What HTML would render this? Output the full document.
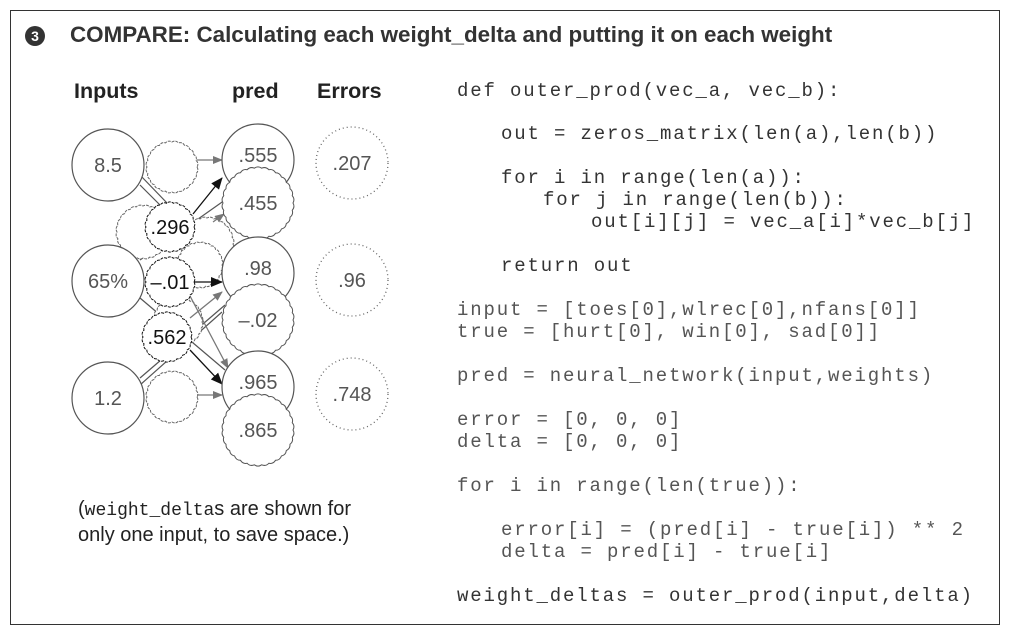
<!DOCTYPE html>
<html><head><meta charset="utf-8"><style>
body{margin:0;background:#fff;width:1011px;height:636px;overflow:hidden;font-family:"Liberation Sans",sans-serif}
.code{position:absolute;font-family:"Liberation Mono",monospace;font-size:19px;letter-spacing:1.85px;white-space:pre;color:#555}
.h{position:absolute;font-weight:bold;font-size:21.5px;color:#222}
</style></head><body>
<div style="position:absolute;left:10px;top:10px;width:988px;height:613px;border:1px solid #333"></div>
<div style="position:absolute;left:25px;top:26px;width:20px;height:20px;border-radius:50%;background:#333;color:#fff;font-weight:bold;font-size:14px;text-align:center;line-height:20px">3</div>
<div class="h" style="left:70px;top:22px;font-size:22.4px;color:#333">COMPARE: Calculating each weight_delta and putting it on each weight</div>
<div class="h" style="left:74px;top:79px">Inputs</div>
<div class="h" style="left:232px;top:79px">pred</div>
<div class="h" style="left:317px;top:79px">Errors</div>
<svg id="s" width="1011" height="636" style="position:absolute;left:0;top:0">
<defs>
<marker id="ag" markerWidth="10" markerHeight="8" refX="9" refY="4" orient="auto" markerUnits="userSpaceOnUse"><path d="M0,0L10,4L0,8z" fill="#777"/></marker>
<marker id="ab" markerWidth="12" markerHeight="10" refX="11" refY="5" orient="auto" markerUnits="userSpaceOnUse"><path d="M0,0L12,5L0,10z" fill="#111"/></marker>
</defs>
<g stroke="#555" stroke-width="1.2" fill="none">
<line x1="140" y1="185" x2="225" y2="270"/>
<line x1="140" y1="298" x2="225" y2="370"/>
<line x1="140" y1="260" x2="225" y2="200"/>
<line x1="140" y1="378" x2="225" y2="305"/>
<line x1="140" y1="385" x2="222" y2="312"/>
<line x1="140" y1="175" x2="222" y2="260"/>
</g>
<g id="back"></g>
<g id="front"></g>
</svg>
<div style="position:absolute;left:78px;top:497px;font-size:20px;color:#222;line-height:24px">(<span style="font-family:'Liberation Mono',monospace;font-size:18px">weight_delta</span>s are shown for<br>only one input, to save space.)</div>
<div class="code" style="left:457px;top:80px;color:#333">def outer_prod(vec_a, vec_b):</div>
<div class="code" style="left:501px;top:123px;color:#333">out = zeros_matrix(len(a),len(b))</div>
<div class="code" style="left:501px;top:167px;color:#333">for i in range(len(a)):</div>
<div class="code" style="left:543px;top:189px;color:#333">for j in range(len(b)):</div>
<div class="code" style="left:591px;top:211px;color:#333">out[i][j] = vec_a[i]*vec_b[j]</div>
<div class="code" style="left:501px;top:255px;color:#333">return out</div>
<div class="code" style="left:457px;top:299px">input = [toes[0],wlrec[0],nfans[0]]</div>
<div class="code" style="left:457px;top:321px">true = [hurt[0], win[0], sad[0]]</div>
<div class="code" style="left:457px;top:365px">pred = neural_network(input,weights)</div>
<div class="code" style="left:457px;top:409px">error = [0, 0, 0]</div>
<div class="code" style="left:457px;top:431px">delta = [0, 0, 0]</div>
<div class="code" style="left:457px;top:475px">for i in range(len(true)):</div>
<div class="code" style="left:501px;top:519px">error[i] = (pred[i] - true[i]) ** 2</div>
<div class="code" style="left:501px;top:541px">delta = pred[i] - true[i]</div>
<div class="code" style="left:457px;top:585px;color:#333">weight_deltas = outer_prod(input,delta)</div>
<script>
var NS="http://www.w3.org/2000/svg";
function wavy(cx,cy,r,n){var d="",k=n;for(var i=0;i<k;i++){var a0=2*Math.PI*i/k,a1=2*Math.PI*(i+1)/k,am=(a0+a1)/2;var x0=cx+r*Math.cos(a0),y0=cy+r*Math.sin(a0),x1=cx+r*Math.cos(a1),y1=cy+r*Math.sin(a1),xm=cx+(r+2.4)*Math.cos(am),ym=cy+(r+2.4)*Math.sin(am);d+=(i?"":"M"+x0+","+y0)+"Q"+xm+","+ym+" "+x1+","+y1;}return d+"Z";}
function el(g,tag,at){var e=document.createElementNS(NS,tag);for(var k in at)e.setAttribute(k,at[k]);document.getElementById(g).appendChild(e);return e;}
function txt(g,x,y,t,c,s){var e=el(g,"text",{x:x,y:y,"text-anchor":"middle","font-family":"Liberation Sans,sans-serif","font-size":s||20,fill:c||"#555"});e.textContent=t;}
[[143,232,26],[207,244,26],[172,167,25],[172,397,25],[178,322,24],[200,265,22]].forEach(function(c){el("back","path",{d:wavy(c[0],c[1],c[2],24),fill:"#fff",stroke:"#666","stroke-width":1,"stroke-dasharray":"3,1"});});
var A=[[197,160,222,160,"ag"],[197,395,222,395,"ag"],[193,214,222,178,"ab"],[193,282,222,282,"ab"],[190,318,222,292,"ag"],[190,350,222,384,"ab"],[190,296,228,368,"ag"],[213,222,224,214,"ag"]];
A.forEach(function(a){el("front","line",{x1:a[0],y1:a[1],x2:a[2],y2:a[3],stroke:a[4]=="ab"?"#111":"#777","stroke-width":1.3,"marker-end":"url(#"+a[4]+")"});});
[[108,165,"8.5"],[108,281,"65%"],[108,398,"1.2"]].forEach(function(c){el("front","circle",{cx:c[0],cy:c[1],r:36,fill:"#fff",stroke:"#555","stroke-width":1.2});txt("front",c[0],c[1]+7,c[2]);});
[[170,227,".296"],[170,282,"\u2013.01"],[167,337,".562"]].forEach(function(c){el("front","path",{d:wavy(c[0],c[1],24,22),fill:"#fff",stroke:"#111","stroke-width":1,"stroke-dasharray":"3,1"});txt("front",c[0],c[1]+7,c[2],"#111");});
[[258,160,".555",0],[258,203,".455",1],[258,273,".98",0],[258,320,"\u2013.02",1],[258,387,".965",0],[258,430,".865",1]].forEach(function(c){if(c[3])el("front","path",{d:wavy(c[0],c[1],35,30),fill:"#fff",stroke:"#555","stroke-width":1});else el("front","circle",{cx:c[0],cy:c[1],r:36,fill:"#fff",stroke:"#555","stroke-width":1.2});txt("front",c[0],c[1]+(c[3]?7:2),c[2]);});
[[352,163,".207"],[352,280,".96"],[352,394,".748"]].forEach(function(c){el("front","circle",{cx:c[0],cy:c[1],r:36,fill:"none",stroke:"#666","stroke-width":1.3,"stroke-dasharray":"1,3"});txt("front",c[0],c[1]+7,c[2]);});
</script>
</body></html>
